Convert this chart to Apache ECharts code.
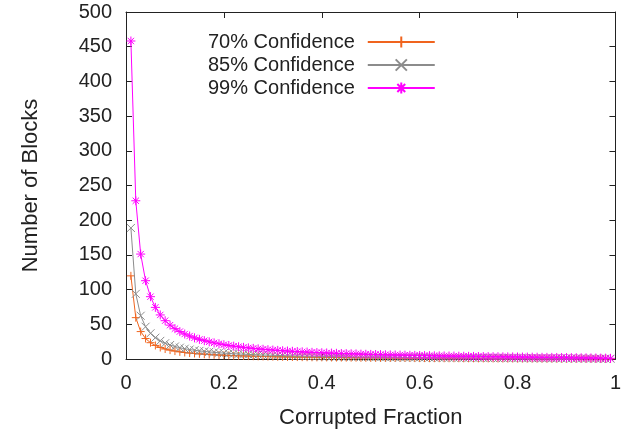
<!DOCTYPE html>
<html>
<head>
<meta charset="utf-8">
<script src="https://cdn.jsdelivr.net/npm/echarts@6/dist/echarts.min.js"></script>
<style>
  html, body { margin: 0; padding: 0; background: #fff; }
  #chart { width: 624px; height: 438px; }
</style>
</head>
<body>
<div id="chart"></div>
<script>
// corrupted fraction sampled on the x axis
const fractions = [
  0.01, 0.02, 0.03, 0.04, 0.05, 0.06, 0.07, 0.08, 0.09, 0.10,
  0.11, 0.12, 0.13, 0.14, 0.15, 0.16, 0.17, 0.18, 0.19, 0.20,
  0.21, 0.22, 0.23, 0.24, 0.25, 0.26, 0.27, 0.28, 0.29, 0.30,
  0.31, 0.32, 0.33, 0.34, 0.35, 0.36, 0.37, 0.38, 0.39, 0.40,
  0.41, 0.42, 0.43, 0.44, 0.45, 0.46, 0.47, 0.48, 0.49, 0.50,
  0.51, 0.52, 0.53, 0.54, 0.55, 0.56, 0.57, 0.58, 0.59, 0.60,
  0.61, 0.62, 0.63, 0.64, 0.65, 0.66, 0.67, 0.68, 0.69, 0.70,
  0.71, 0.72, 0.73, 0.74, 0.75, 0.76, 0.77, 0.78, 0.79, 0.80,
  0.81, 0.82, 0.83, 0.84, 0.85, 0.86, 0.87, 0.88, 0.89, 0.90,
  0.91, 0.92, 0.93, 0.94, 0.95, 0.96, 0.97, 0.98, 0.99
];

const blocks70 = [
  119.8, 59.6, 39.5, 29.5, 23.5, 19.5, 16.6, 14.4, 12.8, 11.4,
  10.3, 9.4, 8.6, 8.0, 7.4, 6.9, 6.5, 6.1, 5.7, 5.4,
  5.1, 4.8, 4.6, 4.4, 4.2, 4.0, 3.8, 3.7, 3.5, 3.4,
  3.2, 3.1, 3.0, 2.9, 2.8, 2.7, 2.6, 2.5, 2.4, 2.4,
  2.3, 2.2, 2.1, 2.1, 2.0, 2.0, 1.9, 1.8, 1.8, 1.7,
  1.7, 1.6, 1.6, 1.5, 1.5, 1.5, 1.4, 1.4, 1.3, 1.3,
  1.3, 1.2, 1.2, 1.2, 1.1, 1.1, 1.1, 1.1, 1.0, 1.0,
  1.0, 0.9, 0.9, 0.9, 0.9, 0.8, 0.8, 0.8, 0.8, 0.7,
  0.7, 0.7, 0.7, 0.7, 0.6, 0.6, 0.6, 0.6, 0.5, 0.5,
  0.5, 0.5, 0.5, 0.4, 0.4, 0.4, 0.3, 0.3, 0.3
];

const blocks85 = [
  188.8, 93.9, 62.3, 46.5, 37.0, 30.7, 26.1, 22.7, 20.1, 18.0,
  16.3, 14.8, 13.6, 12.6, 11.7, 10.9, 10.2, 9.6, 9.0, 8.5,
  8.0, 7.6, 7.3, 6.9, 6.6, 6.3, 6.0, 5.8, 5.5, 5.3,
  5.1, 4.9, 4.7, 4.6, 4.4, 4.3, 4.1, 4.0, 3.8, 3.7,
  3.6, 3.5, 3.4, 3.3, 3.2, 3.1, 3.0, 2.9, 2.8, 2.7,
  2.7, 2.6, 2.5, 2.4, 2.4, 2.3, 2.2, 2.2, 2.1, 2.1,
  2.0, 2.0, 1.9, 1.9, 1.8, 1.8, 1.7, 1.7, 1.6, 1.6,
  1.5, 1.5, 1.4, 1.4, 1.4, 1.3, 1.3, 1.3, 1.2, 1.2,
  1.1, 1.1, 1.1, 1.0, 1.0, 1.0, 0.9, 0.9, 0.9, 0.8,
  0.8, 0.8, 0.7, 0.7, 0.6, 0.6, 0.5, 0.5, 0.4
];

const blocks99 = [
  458.2, 228.0, 151.2, 112.8, 89.8, 74.4, 63.5, 55.2, 48.8, 43.7,
  39.5, 36.0, 33.1, 30.5, 28.3, 26.4, 24.7, 23.2, 21.9, 20.6,
  19.5, 18.5, 17.6, 16.8, 16.0, 15.3, 14.6, 14.0, 13.4, 12.9,
  12.4, 11.9, 11.5, 11.1, 10.7, 10.3, 10.0, 9.6, 9.3, 9.0,
  8.7, 8.5, 8.2, 7.9, 7.7, 7.5, 7.3, 7.0, 6.8, 6.6,
  6.5, 6.3, 6.1, 5.9, 5.8, 5.6, 5.5, 5.3, 5.2, 5.0,
  4.9, 4.8, 4.6, 4.5, 4.4, 4.3, 4.2, 4.0, 3.9, 3.8,
  3.7, 3.6, 3.5, 3.4, 3.3, 3.2, 3.1, 3.0, 3.0, 2.9,
  2.8, 2.7, 2.6, 2.5, 2.4, 2.3, 2.3, 2.2, 2.1, 2.0,
  1.9, 1.8, 1.7, 1.6, 1.5, 1.4, 1.3, 1.2, 1.0
];

const seriesNames = ["70% Confidence", "85% Confidence", "99% Confidence"];
const seriesColors = ["#f0641e", "#8c8c8c", "#ff00ff"];
const seriesSymbols = [
  "path://M0,5L10,5M5,0L5,10",
  "path://M0,0L10,10M10,0L0,10",
  "path://M0,5L10,5M5,0L5,10M1.5,1.5L8.5,8.5M8.5,1.5L1.5,8.5",
];
const seriesValues = [blocks70, blocks85, blocks99];

const font = "Liberation Sans, Arial, Helvetica, sans-serif";
const textColor = "#222";

const chart = echarts.init(document.getElementById("chart"), null, { renderer: "canvas" });

const axisLine = { show: true, onZero: false, lineStyle: { color: "#222", width: 1 } };
const axisTick = { show: true, inside: true, length: 6, lineStyle: { color: "#222" } };

const option = {
  animation: false,
  backgroundColor: "#fff",
  textStyle: { fontFamily: font },
  grid: { left: 126, right: 8, top: 12, bottom: 79, containLabel: false },
  legend: {
    orient: "vertical",
    left: 203,
    top: 27,
    align: "right",
    itemWidth: 67,
    itemHeight: 14,
    itemGap: 3,
    data: seriesNames,
    textStyle: { fontSize: 20, color: textColor, fontFamily: font, padding: [0, 8, 0, 0] },
  },
  xAxis: [
    {
      type: "value",
      min: 0,
      max: 1,
      interval: 0.2,
      position: "bottom",
      axisLine: axisLine,
      axisTick: axisTick,
      axisLabel: { fontSize: 20, color: textColor, margin: 14, formatter: (v) => String(+v.toFixed(1)) },
      splitLine: { show: false },
      name: "Corrupted Fraction",
      nameLocation: "middle",
      nameGap: 48,
      nameTextStyle: { fontSize: 22, color: textColor },
    },
    {
      type: "value",
      min: 0,
      max: 1,
      interval: 0.2,
      position: "top",
      axisLine: axisLine,
      axisTick: axisTick,
      axisLabel: { show: false },
      splitLine: { show: false },
    },
  ],
  yAxis: [
    {
      type: "value",
      min: 0,
      max: 500,
      interval: 50,
      position: "left",
      axisLine: axisLine,
      axisTick: axisTick,
      axisLabel: { fontSize: 20, color: textColor, margin: 14 },
      splitLine: { show: false },
      name: "Number of Blocks",
      nameLocation: "middle",
      nameGap: 84,
      nameRotate: 90,
      nameTextStyle: { fontSize: 22, color: textColor },
    },
    {
      type: "value",
      min: 0,
      max: 500,
      interval: 50,
      position: "right",
      axisLine: axisLine,
      axisTick: axisTick,
      axisLabel: { show: false },
      splitLine: { show: false },
    },
  ],
  series: seriesNames.map((name, i) => ({
    name: name,
    type: "line",
    xAxisIndex: 0,
    yAxisIndex: 0,
    data: fractions.map((f, j) => [f, seriesValues[i][j]]),
    symbol: seriesSymbols[i],
    symbolSize: i === 2 ? 9 : 8,
    showSymbol: true,
    showAllSymbol: true,
    lineStyle: { color: seriesColors[i], width: 1 },
    itemStyle: { color: "rgba(0,0,0,0)", borderColor: seriesColors[i], borderWidth: 1 },
    emphasis: { disabled: true },
    z: 2 + i,
  })),
};

chart.setOption(option);
</script>
</body>
</html>
